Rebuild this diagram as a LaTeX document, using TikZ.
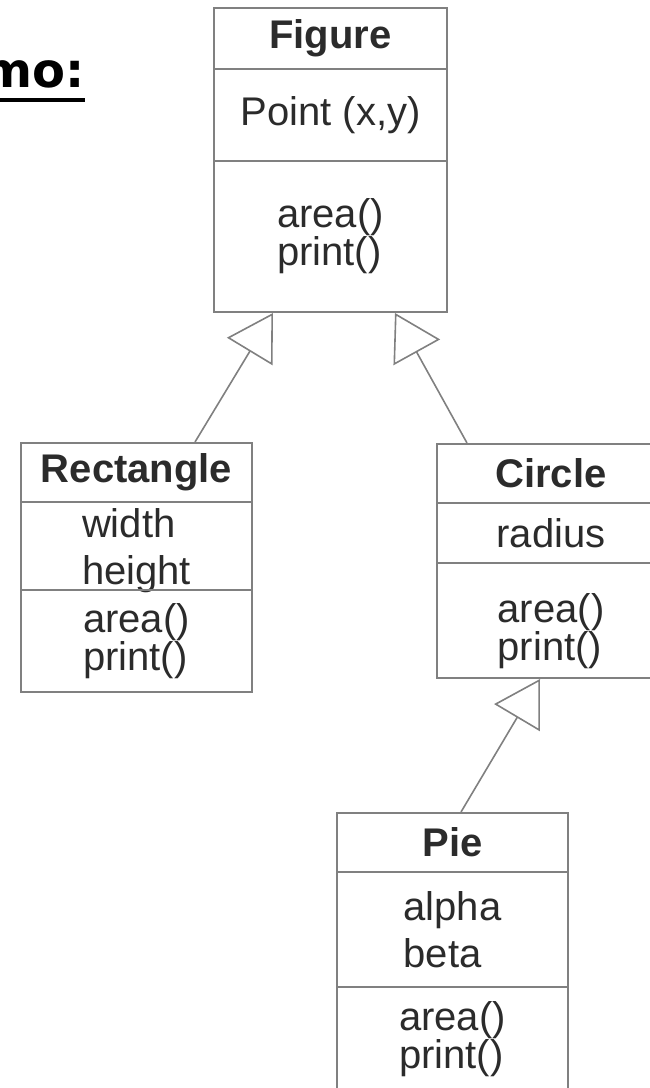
\documentclass[tikz,border=0pt]{standalone}
\usepackage{fontspec}
\setmainfont{Liberation Sans}
\newfontfamily\titlefont{DejaVu Sans}
\usepackage{tikz}
\usetikzlibrary{arrows.meta}
\usetikzlibrary{calc}

\definecolor{boxline}{HTML}{808080}
\definecolor{boxtext}{HTML}{2B2B2B}

\begin{document}
\begin{tikzpicture}[x=1pt,y=-1pt,
    cell/.style={draw=boxline, line width=2pt, inner sep=0pt, align=left,
        text=boxtext, font=\fontsize{40}{37}\selectfont},
    attrcell/.style={cell, font=\fontsize{40}{47}\selectfont},
    classname/.style={cell, font=\fontsize{40}{37}\selectfont\bfseries},
    inherit/.style={draw=boxline, line width=1.6pt,
        -{Triangle[open, length=45pt, width=53pt, line width=1.6pt]}}]
        % page size of the reference
        \useasboundingbox (0,0) rectangle (650,1088);
        \clip (0,0) rectangle (650,1088);

        % heading, cut at the left edge
        \node[anchor=base east, inner sep=0pt, font=\titlefont\fontsize{48}{50}\selectfont\bfseries] (mo) at (85,87) {mo:};
        \draw[line width=3.5pt] ([yshift=-13pt]mo.base west) -- ([yshift=-13pt]mo.base east);

        % Figure
        \node[classname, minimum width=233pt, minimum height=61pt] (fname) at (330.5,38.5) {Figure};
        \node[cell, minimum width=233pt, minimum height=92pt] (fattr) at (330.5,115) {Point (x,y)};
        \node[cell, minimum width=233pt, minimum height=151pt] (fmeth) at (330.5,236.5) {area()\\print()};

        % Rectangle
        \node[classname, minimum width=231pt, minimum height=59pt] (rname) at (136.5,472.5) {Rectangle};
        \node[attrcell, text depth=0pt, minimum width=231pt, minimum height=88pt] (rattr) at (136.5,546) {width\\height};
        \node[cell, minimum width=231pt, minimum height=102pt] (rmeth) at (136.5,641) {area()\\print()};

        % Circle
        \node[classname, minimum width=228pt, minimum height=59pt] (cname) at (551,473.5) {Circle};
        \node[cell, minimum width=228pt, minimum height=60pt] (cattr) at (551,533) {radius};
        \node[cell, minimum width=228pt, minimum height=115pt] (cmeth) at (551,620.5) {\rule{0pt}{50pt}area()\\print()};

        % Pie
        \node[classname, minimum width=231pt, minimum height=59pt] (pname) at (452.5,842.5) {Pie};
        \node[attrcell, minimum width=231pt, minimum height=115pt] (pattr) at (452.5,929.5) {alpha\\beta};
        \node[cell, minimum width=231pt, minimum height=105pt] (pmeth) at (452.5,1039.5) {area()\\print()};

        % inheritance
        \draw[inherit] ($(rname.north)+(58.5,0)$) -- ($(fmeth.south)+(-57.5,0)$);
        \draw[inherit] ($(cname.north)+(-84,0)$) -- ($(fmeth.south)+(64.5,0)$);
        \draw[inherit] ($(pname.north)+(8.5,0)$) -- ($(cmeth.south)+(-11,0)$);

    \end{tikzpicture}
\end{document}
